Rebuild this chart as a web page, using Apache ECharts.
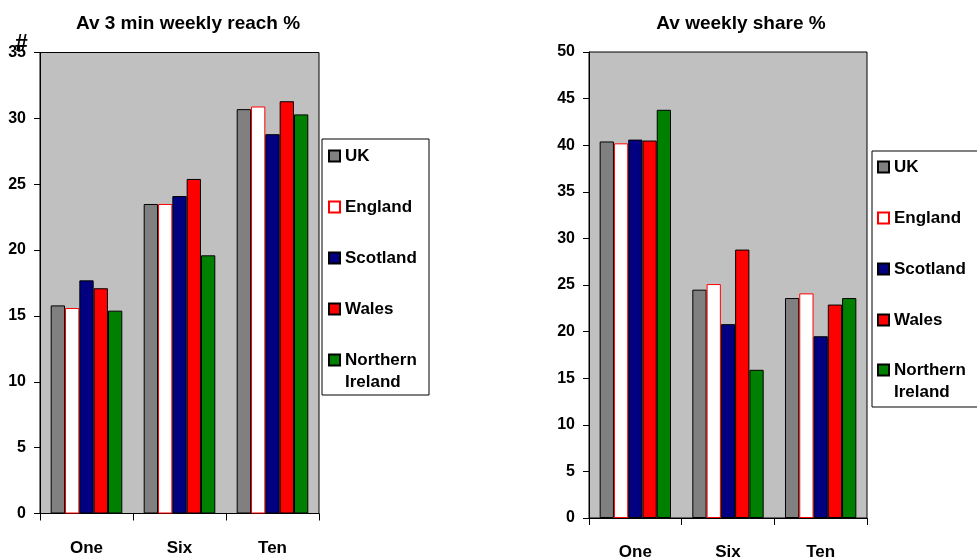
<!DOCTYPE html>
<html>
<head>
<meta charset="utf-8">
<script src="https://cdn.jsdelivr.net/npm/echarts@6/dist/echarts.min.js"></script>
<style>
html,body{margin:0;padding:0;background:#fff;}
#main{width:977px;height:558px;}
</style>
</head>
<body>
<div id="main"></div>
<script>
var categories = ['One', 'Six', 'Ten'];
var regions = ['UK', 'England', 'Scotland', 'Wales', 'Northern Ireland'];

// Av 3 min weekly reach %
var reachUK = [15.8, 23.5, 30.7];
var reachEngland = [15.6, 23.5, 30.9];
var reachScotland = [17.7, 24.1, 28.8];
var reachWales = [17.1, 25.4, 31.3];
var reachNI = [15.4, 19.6, 30.3];

// Av weekly share %
var shareUK = [40.4, 24.5, 23.6];
var shareEngland = [40.2, 25.1, 24.1];
var shareScotland = [40.6, 20.8, 19.5];
var shareWales = [40.5, 28.8, 22.9];
var shareNI = [43.8, 15.9, 23.6];

var reachTicks = [0, 5, 10, 15, 20, 25, 30, 35];
var shareTicks = [0, 5, 10, 15, 20, 25, 30, 35, 40, 45, 50];

var fills = ['#808080', '#ffffff', '#000080', '#ff0000', '#008000'];
var borders = ['#000000', '#ff0000', '#000000', '#000000', '#000000'];

var FONT = '"Liberation Sans", Arial, sans-serif';

function mkSeries(data, idx, gi) {
  return {
    type: 'bar',
    name: regions[idx],
    xAxisIndex: gi,
    yAxisIndex: gi,
    data: data,
    barGap: '0%',
    barCategoryGap: '23%',
    itemStyle: { color: fills[idx], borderColor: borders[idx], borderWidth: 1 },
    emphasis: { disabled: true },
    animation: false
  };
}

var reachSets = [reachUK, reachEngland, reachScotland, reachWales, reachNI];
var shareSets = [shareUK, shareEngland, shareScotland, shareWales, shareNI];
var series = [];
reachSets.forEach(function (d, i) { series.push(mkSeries(d, i, 0)); });
shareSets.forEach(function (d, i) { series.push(mkSeries(d, i, 1)); });

function xAx(gi) {
  return {
    type: 'category', gridIndex: gi, data: categories,
    axisLine: { lineStyle: { color: '#000', width: 1 } },
    axisTick: { show: true, length: 7, lineStyle: { color: '#000' } },
    axisLabel: { color: '#000', fontWeight: 'bold', fontSize: 17, fontFamily: FONT, margin: 26 }
  };
}
function yAx(gi, ticks) {
  return {
    type: 'value', gridIndex: gi, min: ticks[0], max: ticks[ticks.length - 1], interval: ticks[1] - ticks[0],
    axisLine: { show: true, lineStyle: { color: '#000', width: 1 } },
    axisTick: { show: true, length: 6, lineStyle: { color: '#000' } },
    splitLine: { show: false },
    axisLabel: { color: '#000', fontWeight: 'bold', fontSize: 16, fontFamily: FONT, margin: 14 }
  };
}

function legendMain(left, top) {
  return {
    orient: 'vertical', left: left, top: top, padding: 0,
    data: regions.slice(0, 4),
    itemWidth: 11, itemHeight: 11, itemGap: 33,
    icon: 'rect',
    selectedMode: false,
    textStyle: { color: '#000', fontWeight: 'bold', fontSize: 17, fontFamily: FONT, lineHeight: 18 }
  };
}
function legendNI(left, top) {
  return {
    orient: 'vertical', left: left, top: top, padding: 0,
    data: [regions[4]],
    itemWidth: 11, itemHeight: 11,
    icon: 'rect',
    selectedMode: false,
    formatter: function () { return ' \nNorthern\nIreland'; },
    textStyle: { color: '#000', fontWeight: 'bold', fontSize: 17, fontFamily: FONT, lineHeight: 22 }
  };
}

var chart = echarts.init(document.getElementById('main'), null, { renderer: 'canvas' });
chart.setOption({
  animation: false,
  backgroundColor: '#ffffff',
  title: [
    { text: 'Av 3 min weekly reach %', left: 183, top: 9, textAlign: 'center',
      textStyle: { fontSize: 19, fontWeight: 'bold', color: '#000', fontFamily: FONT } },
    { text: 'Av weekly share %', left: 736, top: 9, textAlign: 'center',
      textStyle: { fontSize: 19, fontWeight: 'bold', color: '#000', fontFamily: FONT } },
    { text: '#', left: 10, top: 28,
      textStyle: { fontSize: 23, fontWeight: 'bold', color: '#000', fontFamily: FONT } }
  ],
  grid: [
    { left: 40, top: 52.5, width: 279, height: 461, outerBoundsMode: 'none', containLabel: false,
      show: true, backgroundColor: '#c0c0c0', borderColor: '#000', borderWidth: 1 },
    { left: 589, top: 52, width: 278, height: 466, outerBoundsMode: 'none', containLabel: false,
      show: true, backgroundColor: '#c0c0c0', borderColor: '#000', borderWidth: 1 }
  ],
  xAxis: [xAx(0), xAx(1)],
  yAxis: [yAx(0, reachTicks), yAx(1, shareTicks)],
  legend: [
    legendMain(328, 147), legendNI(328, 327),
    legendMain(877, 158), legendNI(877, 337)
  ],
  graphic: [
    { type: 'rect', shape: { x: 322, y: 139, width: 107, height: 256 }, style: { fill: '#fff', stroke: '#000', lineWidth: 1 }, z: -1 },
    { type: 'rect', shape: { x: 872, y: 151, width: 120, height: 256 }, style: { fill: '#fff', stroke: '#000', lineWidth: 1 }, z: -1 }
  ],
  series: series
});
</script>
</body>
</html>
